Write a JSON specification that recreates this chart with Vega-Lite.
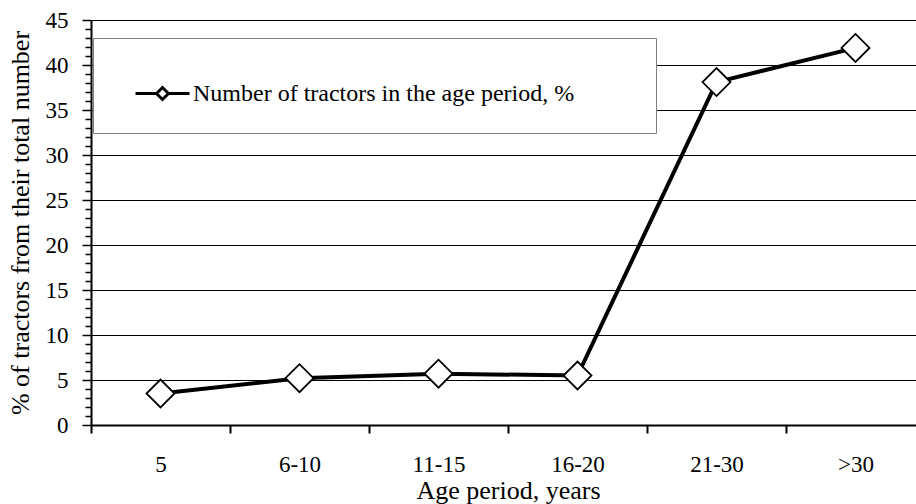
{
  "$schema": "https://vega.github.io/schema/vega-lite/v6.json",
  "width": 825,
  "height": 405,
  "autosize": {"type": "none"},
  "padding": {"left": 91, "top": 20, "right": 0, "bottom": 79},
  "background": "white",
  "config": {
    "view": {"stroke": null},
    "font": "Liberation Serif",
    "axis": {"labelFont": "Liberation Serif", "titleFont": "Liberation Serif", "labelFontSize": 23, "titleFontSize": 26, "labelColor": "black", "titleColor": "black", "titleFontWeight": "normal"}
  },
  "data": {
    "values": [
      {"age": "5", "pct": 3.5, "series": "Number of tractors in the age period, %"},
      {"age": "6-10", "pct": 5.2, "series": "Number of tractors in the age period, %"},
      {"age": "11-15", "pct": 5.7, "series": "Number of tractors in the age period, %"},
      {"age": "16-20", "pct": 5.5, "series": "Number of tractors in the age period, %"},
      {"age": "21-30", "pct": 38.1, "series": "Number of tractors in the age period, %"},
      {"age": ">30", "pct": 41.9, "series": "Number of tractors in the age period, %"}
    ]
  },
  "encoding": {
    "x": {
      "field": "age",
      "type": "nominal",
      "sort": null,
      "bandPosition": 0.5,
      "title": "Age period, years",
      "scale": {"type": "band", "range": [0, 834], "paddingInner": 0, "paddingOuter": 0},
      "axis": {
        "tickBand": "extent",
        "labelAngle": 0,
        "grid": false,
        "domainColor": "black",
        "domainWidth": 2,
        "tickColor": "black",
        "tickWidth": 2,
        "tickSize": 8,
        "labelPadding": 20,
        "titlePadding": 1
      }
    },
    "y": {
      "field": "pct",
      "type": "quantitative",
      "title": "% of tractors from their total number",
      "scale": {"domain": [0, 45], "nice": false},
      "axis": {
        "values": [0,1,2,3,4,5,6,7,8,9,10,11,12,13,14,15,16,17,18,19,20,21,22,23,24,25,26,27,28,29,30,31,32,33,34,35,36,37,38,39,40,41,42,43,44,45],
        "labelExpr": "datum.value % 5 === 0 ? datum.label : ''",
        "labelOverlap": false,
        "labelFlush": false,
        "tickSize": {"condition": {"test": "datum.value % 5 === 0", "value": 9}, "value": 6},
        "tickColor": "black",
        "tickWidth": 1.5,
        "grid": true,
        "gridColor": "black",
        "gridOpacity": {"condition": {"test": "datum.value % 5 === 0", "value": 1}, "value": 0},
        "gridWidth": 1,
        "domainColor": "black",
        "domainWidth": 2,
        "labelPadding": 14,
        "titlePadding": 12
      }
    }
  },
  "layer": [
    {
      "mark": {"type": "line", "strokeWidth": 4},
      "encoding": {
        "stroke": {
          "field": "series",
          "type": "nominal",
          "scale": {"range": ["black"]},
          "legend": {
            "orient": "none",
            "legendX": 2,
            "legendY": 18,
            "title": "\u00a0",
            "titleOrient": "right",
            "titleOpacity": 0,
            "titleFontSize": 24,
            "titlePadding": 55,
            "fillColor": "white",
            "strokeColor": "#808080",
            "padding": 27,
            "symbolOffset": 14,
            "symbolType": "M-1,0H-0.22M0.22,0H1M-0.22,0L0,-0.22L0.22,0L0,0.22Z",
            "symbolSize": 2916,
            "symbolStrokeWidth": 3,
            "symbolFillColor": "white",
            "symbolStrokeColor": "black",
            "labelFont": "Liberation Serif",
            "labelFontSize": 24,
            "labelColor": "black",
            "labelOffset": 2,
            "labelLimit": 0
          }
        }
      }
    },
    {
      "mark": {"type": "point", "shape": "diamond", "size": 784, "filled": true, "fill": "white", "stroke": "black", "strokeWidth": 1.8, "opacity": 1}
    }
  ]
}
